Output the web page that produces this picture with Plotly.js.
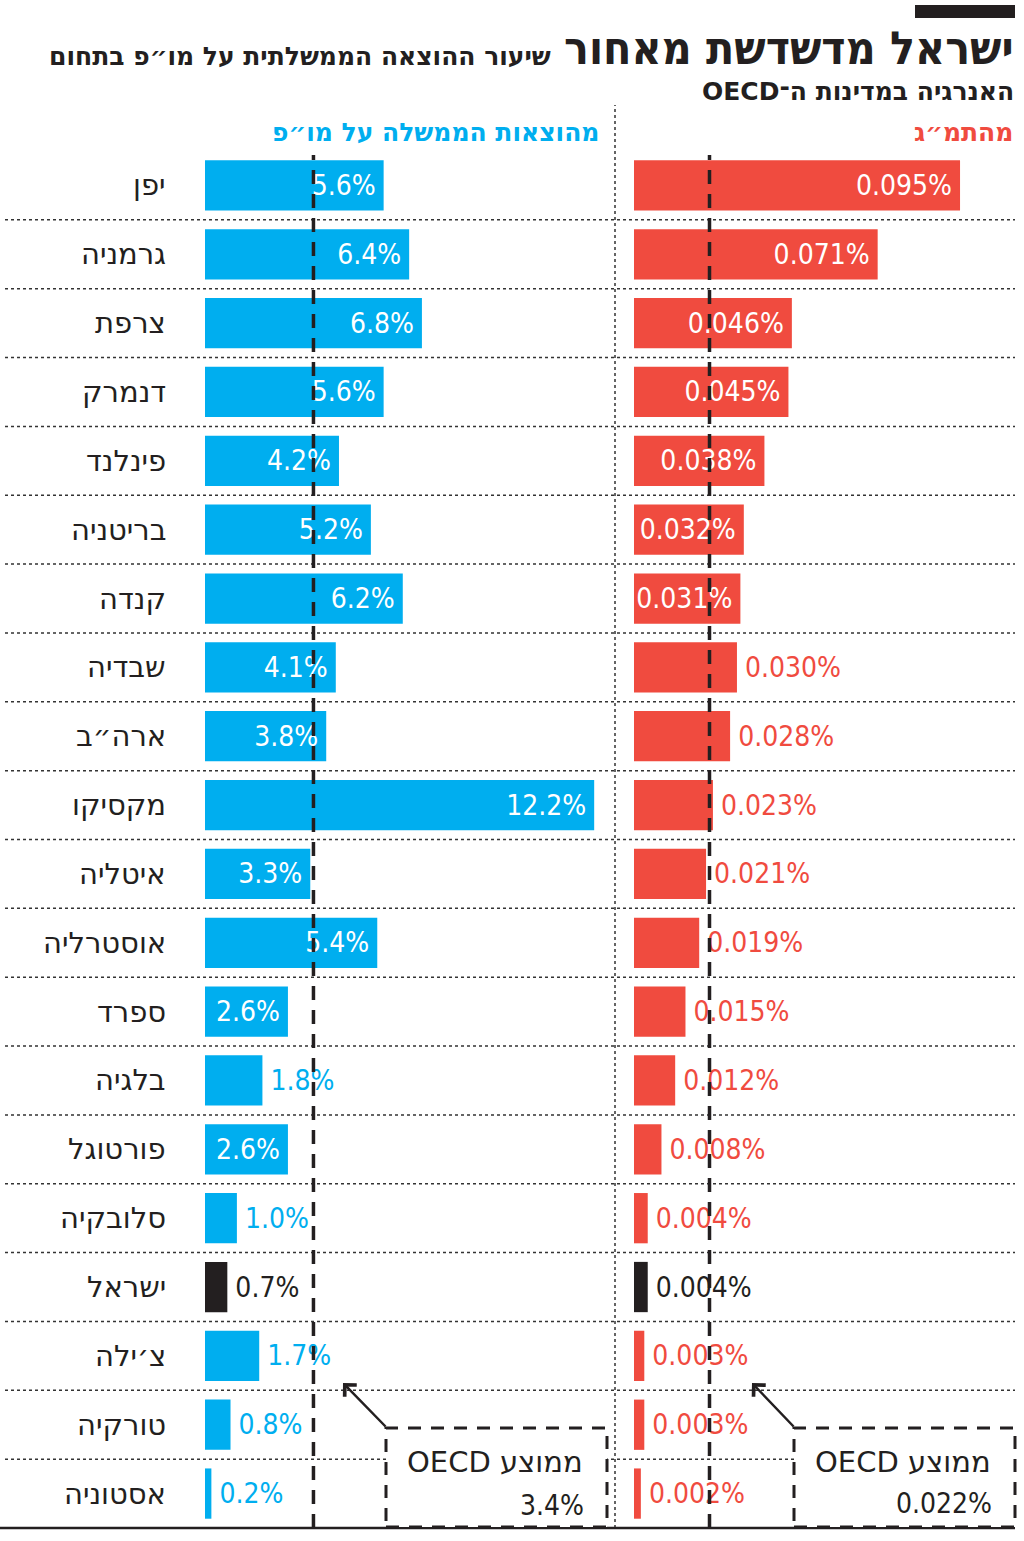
<!DOCTYPE html>
<html><head><meta charset="utf-8">
<script src="https://cdn.plot.ly/plotly-3.0.1.min.js"></script>
<style>html,body{margin:0;padding:0;background:#fff}</style>
</head><body><div id="chart" style="width:1024px;height:1541px"></div>
<script>
const countries = ['יפן','גרמניה','צרפת','דנמרק','פינלנד','בריטניה','קנדה','שבדיה','ארה״ב','מקסיקו','איטליה','אוסטרליה','ספרד','בלגיה','פורטוגל','סלובקיה','ישראל','צ׳ילה','טורקיה','אסטוניה'];
const govShare = [5.6,6.4,6.8,5.6,4.2,5.2,6.2,4.1,3.8,12.2,3.3,5.4,2.6,1.8,2.6,1.0,0.7,1.7,0.8,0.2];
const gdpShare = [0.095,0.071,0.046,0.045,0.038,0.032,0.031,0.030,0.028,0.023,0.021,0.019,0.015,0.012,0.008,0.004,0.004,0.003,0.003,0.002];
const oecdGov = 3.4;
const oecdGdp = 0.022;
const highlight = 'ישראל';

const W = 1024, H = 1541;
const px = x => x / W;
const py = y => 1 - y / H;
const BLUE = '#00aeef', RED = '#f04b3f', DARK = '#231f20';
const NUM = '"DejaVu Sans Condensed", sans-serif';
const HEB = '"DejaVu Sans", sans-serif';
const HEBC = '"DejaVu Sans Condensed", sans-serif';
const RTL = s => '\u202B' + s + '\u202C';
const TS = '\u2009';

function barColors(base){ return countries.map(c => c === highlight ? DARK : base); }
function textColors(vals, base, thr){
  return countries.map((c,i) => vals[i] >= thr ? '#ffffff' : (c === highlight ? DARK : base));
}
function textPos(vals, thr){ return vals.map(v => v >= thr ? 'inside' : 'outside'); }
function labels(vals, dec, thr){
  return vals.map(v => v >= thr ? v.toFixed(dec) + '%' + TS : TS + v.toFixed(dec) + '%');
}

const thrGov = 2.0, thrGdp = 0.0305;

const traces = [
  {
    type:'bar', orientation:'h', x: govShare, y: countries, xaxis:'x', yaxis:'y',
    marker:{color: barColors(BLUE)}, width:0.73,
    text: labels(govShare, 1, thrGov),
    textposition: textPos(govShare, thrGov),
    insidetextanchor:'end', constraintext:'none', cliponaxis:false,
    textfont:{family:NUM, size:28, color: textColors(govShare, BLUE, thrGov)},
    hoverinfo:'skip'
  },
  {
    type:'bar', orientation:'h', x: gdpShare, y: countries, xaxis:'x2', yaxis:'y2',
    marker:{color: barColors(RED)}, width:0.73,
    text: labels(gdpShare, 3, thrGdp),
    textposition: textPos(gdpShare, thrGdp),
    insidetextanchor:'end', constraintext:'none', cliponaxis:false,
    textfont:{family:NUM, size:28, color: textColors(gdpShare, RED, thrGdp)},
    hoverinfo:'skip'
  }
];

const yDomain = [py(1528), py(151)];
const yAx = {domain:yDomain, type:'category', categoryarray:countries, categoryorder:'array',
  autorange:'reversed', showticklabels:false, showgrid:false, zeroline:false, showline:false, ticks:''};

const shapes = [];
for (let i = 0; i < countries.length - 1; i++) {
  shapes.push({type:'line', xref:'paper', yref:'y', x0:px(5), x1:px(1015), y0:i+0.5, y1:i+0.5,
    line:{color:'#333', width:1.5, dash:'dot'}, layer:'below'});
}
shapes.push({type:'line', xref:'paper', yref:'paper', x0:px(615), x1:px(615), y0:py(1528), y1:py(105),
  line:{color:'#333', width:1.5, dash:'dot'}, layer:'below'});
shapes.push({type:'line', xref:'paper', yref:'paper', x0:0, x1:px(1015), y0:py(1528), y1:py(1528),
  line:{color:DARK, width:2.5}});
shapes.push({type:'line', xref:'x', yref:'paper', x0:oecdGov, x1:oecdGov, y0:py(1528), y1:py(155),
  line:{color:DARK, width:3.5, dash:'14px,10px'}, layer:'above'});
shapes.push({type:'line', xref:'x2', yref:'paper', x0:oecdGdp, x1:oecdGdp, y0:py(1528), y1:py(155),
  line:{color:DARK, width:3.5, dash:'14px,10px'}, layer:'above'});
shapes.push({type:'rect', xref:'paper', yref:'paper', x0:px(386), x1:px(607), y0:py(1527), y1:py(1428),
  fillcolor:'#ffffff', line:{color:DARK, width:3, dash:'13px,10px'}, layer:'above'});
shapes.push({type:'rect', xref:'paper', yref:'paper', x0:px(794), x1:px(1015), y0:py(1527), y1:py(1428),
  fillcolor:'#ffffff', line:{color:DARK, width:3, dash:'13px,10px'}, layer:'above'});
shapes.push({type:'rect', xref:'paper', yref:'paper', x0:px(915), x1:px(1015), y0:py(18), y1:py(5),
  fillcolor:DARK, line:{width:0}});

const annotations = countries.map(c => ({
  xref:'paper', yref:'y', x:px(168), y:c, xanchor:'right', yanchor:'middle', showarrow:false,
  text:c, font:{family:HEB, size:29, color:DARK}
}));

function txt(x, y, text, size, color, weight, family){
  return {xref:'paper', yref:'paper', x:px(x), y:py(y), xanchor:'right', yanchor:'middle',
    showarrow:false, text:text, font:{family:family||HEB, size:size, color:color, weight:weight||400}};
}
annotations.push(txt(1016, 48, 'ישראל מדשדשת מאחור', 46, DARK, 800, HEBC));
annotations.push(txt(553, 57, 'שיעור ההוצאה הממשלתית על מו״פ בתחום', 25, DARK, 800));
annotations.push(txt(1016, 92, RTL('האנרגיה במדינות ה־OECD'), 25, DARK, 800));
annotations.push(txt(601, 132, 'מהוצאות הממשלה על מו״פ', 25, BLUE, 800));
annotations.push(txt(1015, 132, 'מהתמ״ג', 25, RED, 800));
annotations.push(txt(585, 1462, RTL('ממוצע OECD'), 29, DARK, 400));
annotations.push(txt(586, 1505, oecdGov.toFixed(1) + '%', 28, DARK, 400, NUM));
annotations.push(txt(993, 1462, RTL('ממוצע OECD'), 29, DARK, 400));
annotations.push(txt(994, 1503, oecdGdp.toFixed(3) + '%', 28, DARK, 400, NUM));
function arrow(x, y, ax, ay){
  return {xref:'paper', yref:'paper', x:px(x), y:py(y), ax:ax, ay:ay, text:'', showarrow:true,
    arrowhead:4, arrowsize:1.3, arrowwidth:2.5, arrowcolor:DARK, standoff:0, startstandoff:0};
}
annotations.push(arrow(343, 1383, 44, 45));
annotations.push(arrow(752, 1383, 43, 45));

const layout = {
  width:W, height:H, margin:{l:0, r:0, t:0, b:0}, paper_bgcolor:'#fff', plot_bgcolor:'rgba(0,0,0,0)',
  showlegend:false,
  xaxis:{domain:[px(205), px(615)], range:[0, (615-205)/31.9], visible:false, fixedrange:true},
  xaxis2:{domain:[px(634), px(1015)], range:[0, (1015-634)/3432], visible:false, fixedrange:true},
  yaxis:Object.assign({anchor:'x'}, yAx),
  yaxis2:Object.assign({anchor:'x2'}, yAx),
  shapes:shapes, annotations:annotations, hovermode:false
};

Plotly.newPlot('chart', traces, layout, {displayModeBar:false, staticPlot:true});
</script>
</body></html>
